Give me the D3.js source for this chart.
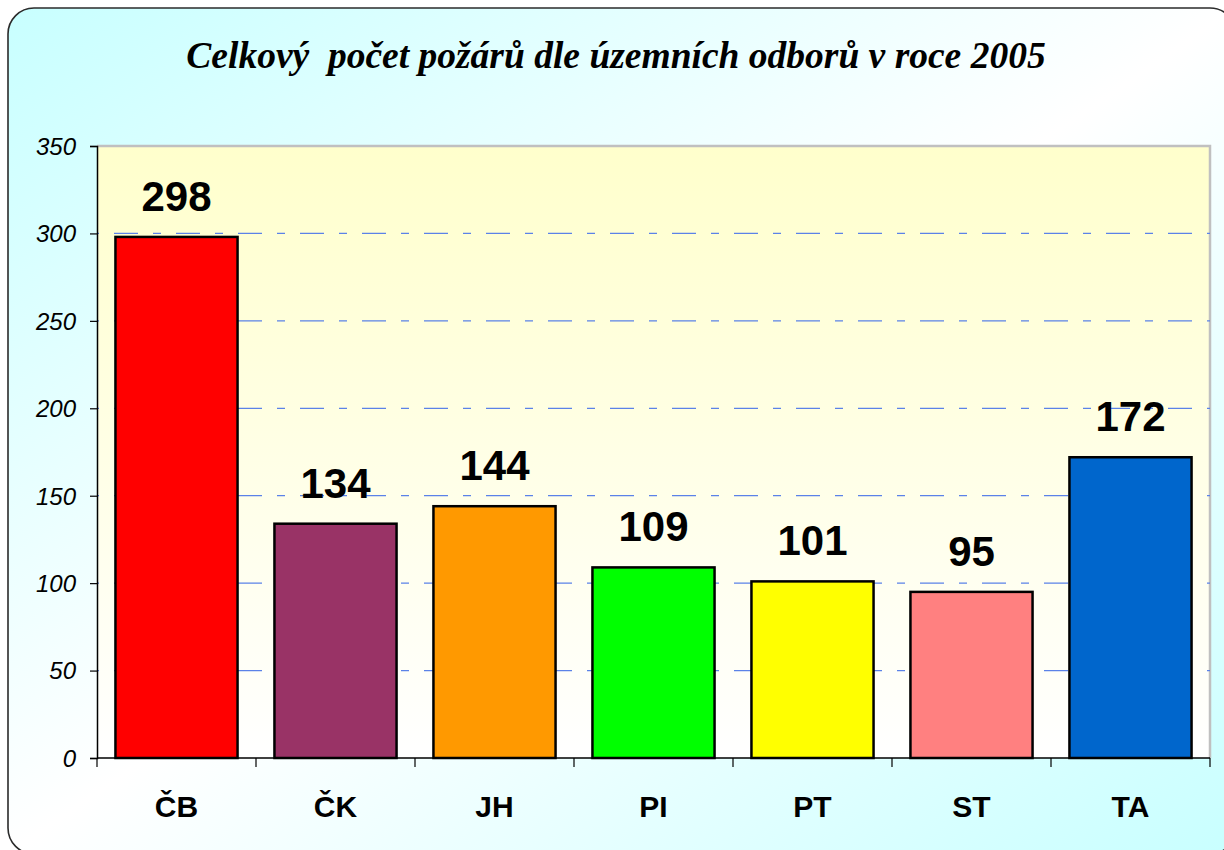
<!DOCTYPE html>
<html>
<head>
<meta charset="utf-8">
<script src="https://cdn.jsdelivr.net/npm/d3@7/dist/d3.min.js"></script>
<style>
  html, body { margin: 0; padding: 0; background: #ffffff; }
  svg { display: block; }
</style>
</head>
<body>
<svg id="chart" width="1224" height="850"></svg>
<script>
const title = "Celkový  počet požárů dle územních odborů v roce 2005";
const categories = ["ČB", "ČK", "JH", "PI", "PT", "ST", "TA"];
const values = [298, 134, 144, 109, 101, 95, 172];
const barColors = ["#ff0000", "#993366", "#ff9900", "#00ff00", "#ffff00", "#ff8080", "#0066cc"];
const yTicks = [0, 50, 100, 150, 200, 250, 300, 350];

const svg = d3.select("#chart");
const W = 1224, H = 850;
const margin = { left: 97, right: 14, top: 146, bottom: 92 };
const plotW = W - margin.left - margin.right; // 1113
const plotH = H - margin.top - margin.bottom; // 612

const defs = svg.append("defs");
const bg = defs.append("linearGradient").attr("id", "bgGrad")
  .attr("x1", 0).attr("y1", 0).attr("x2", 1).attr("y2", 1);
bg.append("stop").attr("offset", "0%").attr("stop-color", "#c8ffff");
bg.append("stop").attr("offset", "50%").attr("stop-color", "#ffffff");
bg.append("stop").attr("offset", "100%").attr("stop-color", "#c8ffff");

const pg = defs.append("linearGradient").attr("id", "plotGrad")
  .attr("x1", 0).attr("y1", 0).attr("x2", 0).attr("y2", 1);
pg.append("stop").attr("offset", "0%").attr("stop-color", "#ffffcc");
pg.append("stop").attr("offset", "100%").attr("stop-color", "#ffffff");

// outer rounded frame
svg.append("rect")
  .attr("x", 8).attr("y", 8).attr("width", 1228).attr("height", 846)
  .attr("rx", 26).attr("ry", 26)
  .attr("fill", "url(#bgGrad)")
  .attr("stroke", "#2b2b2b").attr("stroke-width", 1.6);

// title
svg.append("text")
  .attr("x", 616).attr("y", 68)
  .attr("text-anchor", "middle")
  .attr("font-family", "'Liberation Serif', 'Times New Roman', serif")
  .attr("font-style", "italic").attr("font-weight", "bold")
  .attr("font-size", 37.5)
  .attr("xml:space", "preserve")
  .style("white-space", "pre")
  .text(title);

const g = svg.append("g").attr("transform", `translate(${margin.left},${margin.top})`);

const x = d3.scaleBand().domain(categories).range([0, plotW]).paddingInner(0.232).paddingOuter(0.116);
const xBand = d3.scaleBand().domain(categories).range([0, plotW]).padding(0);
const y = d3.scaleLinear().domain([0, 350]).range([plotH, 0]);

// plot area
g.append("rect").attr("x", 0).attr("y", 0).attr("width", plotW).attr("height", plotH)
  .attr("fill", "url(#plotGrad)");
g.append("path")
  .attr("d", `M0,0H${plotW}V${plotH}`)
  .attr("fill", "none").attr("stroke", "#c0c0c0").attr("stroke-width", 2.5);

// gridlines
g.append("g").selectAll("line")
  .data(yTicks.filter(d => d > 0 && d < 350))
  .join("line")
  .attr("x1", 0).attr("x2", plotW)
  .attr("y1", d => y(d)).attr("y2", d => y(d))
  .attr("stroke", "#5b82e8").attr("stroke-width", 1.2)
  .attr("stroke-dasharray", "24,15,8,15")
  .attr("stroke-dashoffset", -17);

// bars
g.append("g").selectAll("rect")
  .data(categories)
  .join("rect")
  .attr("x", d => x(d))
  .attr("y", (d, i) => y(values[i]))
  .attr("width", x.bandwidth())
  .attr("height", (d, i) => plotH - y(values[i]))
  .attr("fill", (d, i) => barColors[i])
  .attr("stroke", "#000").attr("stroke-width", 2.5);

// value labels
g.append("g").selectAll("text")
  .data(categories)
  .join("text")
  .attr("x", d => x(d) + x.bandwidth() / 2)
  .attr("y", (d, i) => y(values[i]) - 26)
  .attr("text-anchor", "middle")
  .attr("font-family", "'Liberation Sans', Arial, sans-serif")
  .attr("font-weight", "bold").attr("font-size", 42)
  .attr("fill", "#000")
  .text((d, i) => values[i]);

// y axis
const yAxis = g.append("g")
  .call(d3.axisLeft(y).tickValues(yTicks).tickSize(7).tickPadding(14));
yAxis.select(".domain").attr("stroke", "#000").attr("stroke-width", 1.5);
yAxis.selectAll(".tick line").attr("stroke", "#000").attr("stroke-width", 1.2);
yAxis.selectAll("text")
  .attr("font-family", "'Liberation Sans', Arial, sans-serif")
  .attr("font-style", "italic").attr("font-size", 24).attr("fill", "#000")
  .attr("dy", "0.35em");

// x axis
const xAxisG = g.append("g").attr("transform", `translate(0,${plotH})`);
xAxisG.append("line").attr("x1", 0).attr("x2", plotW).attr("y1", 0).attr("y2", 0)
  .attr("stroke", "#000").attr("stroke-width", 1.5);
const boundaries = categories.map(c => xBand(c)).concat([plotW]);
xAxisG.selectAll("line.tk").data(boundaries).join("line").attr("class", "tk")
  .attr("x1", d => d).attr("x2", d => d).attr("y1", 0).attr("y2", 9)
  .attr("stroke", "#000").attr("stroke-width", 1.2);
xAxisG.selectAll("text").data(categories).join("text")
  .attr("x", d => xBand(d) + xBand.bandwidth() / 2)
  .attr("y", 59)
  .attr("text-anchor", "middle")
  .attr("font-family", "'Liberation Sans', Arial, sans-serif")
  .attr("font-weight", "bold").attr("font-size", 30).attr("fill", "#000")
  .text(d => d);
</script>
</body>
</html>
